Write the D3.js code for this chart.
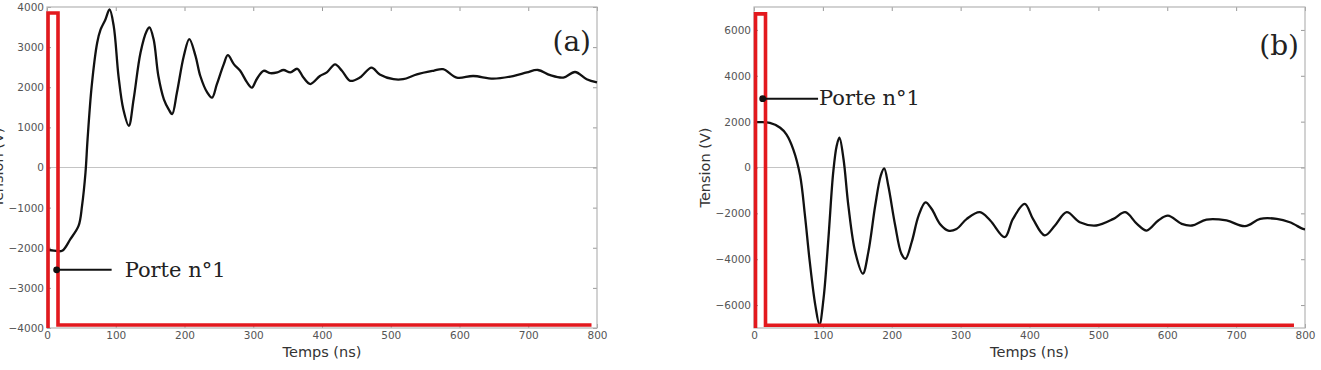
<!DOCTYPE html>
<html>
<head>
<meta charset="utf-8">
<script src="https://cdn.jsdelivr.net/npm/d3@7"></script>
<style>
  body { margin: 0; background: #fff; }
  svg { display: block; }
  .tick text { font-family: "DejaVu Sans", sans-serif; font-size: 10.5px; fill: #555; }
  .tick line { stroke: #9a9a9a; }
  .axis-title { font-family: "DejaVu Sans", sans-serif; font-size: 14.5px; fill: #333; }
  .serif { font-family: "DejaVu Serif", serif; fill: #222; }
</style>
</head>
<body>
<svg id="chart" width="1321" height="370"></svg>
<script>
// ---- data: [time (ns), tension (V)] ----
const waveA = [
  [0, -2050], [10, -2070], [22, -2075], [34, -1785], [46, -1450], [51, -950],
  [56, -125], [59, 700], [65, 2030], [73, 3110], [78, 3440], [85, 3690],
  [91, 3940], [97, 3530], [104, 2280], [111, 1450], [119, 1040], [126, 1700],
  [136, 2860], [145, 3400], [149, 3490], [155, 3200], [162, 2280], [170, 1700],
  [177, 1450], [182, 1330], [189, 1870], [199, 2780], [207, 3200], [216, 2780],
  [223, 2280], [233, 1870], [240, 1740], [247, 2070], [257, 2570], [263, 2800],
  [272, 2570], [281, 2410], [291, 2120], [298, 1990], [305, 2200], [315, 2410],
  [325, 2350], [335, 2370], [344, 2430], [354, 2370], [364, 2460], [373, 2240],
  [383, 2080], [397, 2280], [407, 2370], [419, 2570], [429, 2410], [441, 2160],
  [455, 2240], [472, 2490], [484, 2320], [504, 2200], [518, 2200], [538, 2320],
  [562, 2410], [576, 2450], [596, 2240], [620, 2280], [649, 2215], [678, 2280],
  [698, 2370], [714, 2430], [732, 2300], [751, 2240], [768, 2380], [785, 2200],
  [800, 2120]
];

const waveB = [
  [0, 1990], [6, 1980], [23, 1950], [38, 1735], [47, 1446], [57, 795],
  [67, -360], [74, -2100], [81, -4120], [89, -6000], [95, -6850], [101, -5710],
  [108, -3110], [115, -217], [120, 940], [124, 1300], [130, 360], [137, -1660],
  [147, -3690], [158, -4630], [166, -3690], [176, -1660], [184, -360], [189, -40],
  [195, -800], [205, -2530], [214, -3760], [220, -3980], [229, -3250], [239, -2100],
  [249, -1520], [258, -1810], [270, -2460], [282, -2750], [294, -2680], [309, -2240],
  [328, -1950], [343, -2310], [364, -3040], [376, -2240], [393, -1590], [405, -2240],
  [422, -2960], [437, -2530], [454, -1950], [473, -2390], [497, -2530], [522, -2240],
  [539, -1950], [556, -2460], [570, -2750], [587, -2310], [601, -2100], [621, -2460],
  [636, -2530], [657, -2270], [686, -2310], [713, -2560], [735, -2240], [759, -2240],
  [778, -2390], [797, -2680], [800, -2700]
];

// gate window "Porte n°1" (red)
const gateA = [[1.5, -4000], [1.5, 3850], [16, 3850], [16, -3925], [792, -3925]];
const gateB = [[2.2, -7000], [2.2, 6700], [16.7, 6700], [16.7, -6880], [784, -6880]];

// annotation arrows: [dot time, dot tension, end time]
const arrowA = [14, -2550, 94];
const arrowB = [12.6, 3000, 93];

const timeTicks = [0, 100, 200, 300, 400, 500, 600, 700, 800];
const tensionTicksA = [-4000, -3000, -2000, -1000, 0, 1000, 2000, 3000, 4000];
const tensionTicksB = [-6000, -4000, -2000, 0, 2000, 4000, 6000];

const svg = d3.select('#chart');
const fmt = d3.format('d');

const panels = [
  { left: 47, right: 597, top: 7, bottom: 328, yDomain: [-4000, 4000],
    wave: waveA, gate: gateA, arrow: arrowA, ticks: tensionTicksA,
    tag: '(a)', tagY: 51, labelDx: 13, labelDy: 7 },
  { left: 754, right: 1305, top: 7, bottom: 328, yDomain: [-7000, 7000],
    wave: waveB, gate: gateB, arrow: arrowB, ticks: tensionTicksB,
    tag: '(b)', tagY: 55, labelDx: 1, labelDy: 6 }
];

function drawPanel(p) {
  const x = d3.scaleLinear().domain([0, 800]).range([p.left, p.right]);
  const y = d3.scaleLinear().domain(p.yDomain).range([p.bottom, p.top]);
  const g = svg.append('g');

  // zero line
  g.append('line')
    .attr('x1', x(0)).attr('x2', x(800))
    .attr('y1', y(0)).attr('y2', y(0))
    .attr('stroke', '#c4c4c4').attr('stroke-width', 1.2);

  // inward ticks on all four sides
  g.append('g').attr('transform', `translate(0,${p.bottom})`)
    .call(d3.axisBottom(x).tickValues(timeTicks).tickFormat(fmt).tickSize(-4).tickPadding(4))
    .call(a => a.select('.domain').remove());
  g.append('g').attr('transform', `translate(0,${p.top})`)
    .call(d3.axisTop(x).tickValues(timeTicks).tickSize(-4).tickFormat(''))
    .call(a => a.select('.domain').remove());
  g.append('g').attr('transform', `translate(${p.left},0)`)
    .call(d3.axisLeft(y).tickValues(p.ticks).tickFormat(fmt).tickSize(-4).tickPadding(3))
    .call(a => a.select('.domain').remove());
  g.append('g').attr('transform', `translate(${p.right},0)`)
    .call(d3.axisRight(y).tickValues(p.ticks).tickSize(-4).tickFormat(''))
    .call(a => a.select('.domain').remove());

  // frame
  g.append('rect')
    .attr('x', x(0)).attr('y', p.top)
    .attr('width', x(800) - x(0)).attr('height', p.bottom - p.top)
    .attr('fill', 'none').attr('stroke', '#b4b4b4').attr('stroke-width', 1.2);

  // axis titles
  g.append('text').attr('class', 'axis-title')
    .attr('x', (p.left + p.right) / 2).attr('y', 357)
    .attr('text-anchor', 'middle').text('Temps (ns)');
  g.append('text').attr('class', 'axis-title')
    .attr('transform', `translate(${p.left - 44},${(p.top + p.bottom) / 2}) rotate(-90)`)
    .attr('text-anchor', 'middle').text('Tension (V)');

  const line = d3.line().x(d => x(d[0])).y(d => y(d[1]));

  // waveform
  g.append('path')
    .datum(p.wave)
    .attr('d', line.curve(d3.curveCatmullRom.alpha(0.5)))
    .attr('fill', 'none').attr('stroke', '#111')
    .attr('stroke-width', 2.3).attr('stroke-linejoin', 'round');

  // gate
  g.append('path')
    .datum(p.gate)
    .attr('d', d3.line().x(d => x(d[0])).y(d => y(d[1])))
    .attr('fill', 'none').attr('stroke', '#e3191e')
    .attr('stroke-width', 3.6).attr('stroke-linejoin', 'miter');

  // annotation
  const [ax, ay, ex] = p.arrow;
  g.append('line')
    .attr('x1', x(ax)).attr('y1', y(ay))
    .attr('x2', x(ex)).attr('y2', y(ay))
    .attr('stroke', '#111').attr('stroke-width', 2);
  g.append('circle')
    .attr('cx', x(ax)).attr('cy', y(ay)).attr('r', 3.4).attr('fill', '#111');
  g.append('text').attr('class', 'serif')
    .attr('x', x(ex) + p.labelDx).attr('y', y(ay) + p.labelDy)
    .attr('font-size', 21).text('Porte n°1');

  // panel tag
  g.append('text').attr('class', 'serif')
    .attr('x', p.right - 6).attr('y', p.tagY)
    .attr('text-anchor', 'end').attr('font-size', 28).text(p.tag);
}

panels.forEach(drawPanel);
</script>
</body>
</html>
